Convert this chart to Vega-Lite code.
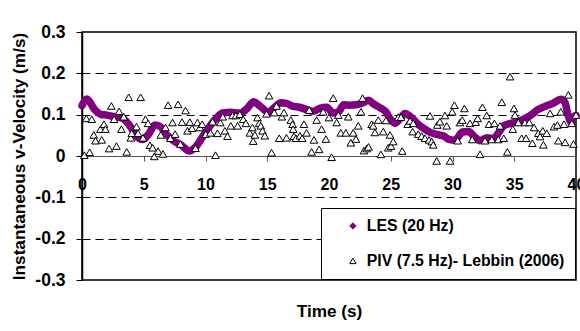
{
  "$schema": "https://vega.github.io/schema/vega-lite/v6.json",
  "autosize": {"type": "none"},
  "width": 494,
  "height": 248,
  "padding": {"left": 82, "top": 32, "right": 4, "bottom": 51},
  "background": "#ffffff",
  "config": {
    "view": {"stroke": "#000000", "strokeWidth": 1.5},
    "font": "Liberation Sans",
    "legend": {
      "title": null,
      "orient": "none",
      "legendX": 239,
      "legendY": 176,
      "padding": 10,
      "fillColor": "#ffffff",
      "strokeColor": "#000000",
      "symbolOffset": 14,
      "symbolSize": 40,
      "symbolStrokeWidth": 1,
      "labelFont": "Liberation Sans",
      "labelFontWeight": "bold",
      "labelFontSize": 15.8,
      "labelColor": "#000000",
      "labelOffset": 6,
      "labelLimit": 400,
      "rowPadding": 18
    }
  },
  "datasets": {
    "les": [
      {"t": 0, "v": 0.122}, {"t": 0.4, "v": 0.138}, {"t": 1.0, "v": 0.113}, {"t": 1.5, "v": 0.101},
      {"t": 2.0, "v": 0.099}, {"t": 2.7, "v": 0.095}, {"t": 3.3, "v": 0.091}, {"t": 3.9, "v": 0.072},
      {"t": 4.4, "v": 0.048}, {"t": 4.9, "v": 0.040}, {"t": 5.4, "v": 0.053}, {"t": 5.9, "v": 0.075},
      {"t": 6.3, "v": 0.072}, {"t": 6.8, "v": 0.053}, {"t": 7.4, "v": 0.037}, {"t": 8.0, "v": 0.027},
      {"t": 8.7, "v": 0.012}, {"t": 9.2, "v": 0.022}, {"t": 9.8, "v": 0.048}, {"t": 10.35, "v": 0.072},
      {"t": 10.9, "v": 0.092}, {"t": 11.4, "v": 0.104}, {"t": 12.0, "v": 0.106}, {"t": 12.8, "v": 0.104},
      {"t": 13.3, "v": 0.113}, {"t": 13.9, "v": 0.131}, {"t": 14.4, "v": 0.121}, {"t": 15.1, "v": 0.106},
      {"t": 15.6, "v": 0.118}, {"t": 16.1, "v": 0.129}, {"t": 16.6, "v": 0.127}, {"t": 17.1, "v": 0.120},
      {"t": 17.6, "v": 0.118}, {"t": 18.2, "v": 0.112}, {"t": 18.7, "v": 0.108}, {"t": 19.3, "v": 0.116},
      {"t": 19.8, "v": 0.118}, {"t": 20.35, "v": 0.104}, {"t": 20.8, "v": 0.108}, {"t": 21.2, "v": 0.124},
      {"t": 21.7, "v": 0.123}, {"t": 22.2, "v": 0.124}, {"t": 22.7, "v": 0.128}, {"t": 23.2, "v": 0.135},
      {"t": 23.6, "v": 0.126}, {"t": 24.1, "v": 0.117}, {"t": 24.6, "v": 0.107}, {"t": 25.0, "v": 0.088},
      {"t": 25.35, "v": 0.079}, {"t": 25.8, "v": 0.092}, {"t": 26.15, "v": 0.103}, {"t": 26.6, "v": 0.095},
      {"t": 27.1, "v": 0.080}, {"t": 27.6, "v": 0.068}, {"t": 28.2, "v": 0.057}, {"t": 28.9, "v": 0.051},
      {"t": 29.3, "v": 0.048}, {"t": 29.7, "v": 0.040}, {"t": 30.2, "v": 0.038}, {"t": 30.8, "v": 0.058},
      {"t": 31.3, "v": 0.059}, {"t": 31.8, "v": 0.046}, {"t": 32.2, "v": 0.037}, {"t": 32.8, "v": 0.044},
      {"t": 33.3, "v": 0.042}, {"t": 33.7, "v": 0.055}, {"t": 34.1, "v": 0.072}, {"t": 34.7, "v": 0.079},
      {"t": 35.3, "v": 0.083}, {"t": 35.9, "v": 0.091}, {"t": 36.4, "v": 0.100}, {"t": 36.9, "v": 0.112},
      {"t": 37.5, "v": 0.120}, {"t": 38.1, "v": 0.127}, {"t": 38.8, "v": 0.137}, {"t": 39.1, "v": 0.130},
      {"t": 39.35, "v": 0.100}, {"t": 39.6, "v": 0.082}, {"t": 39.9, "v": 0.097}, {"t": 40.0, "v": 0.098}
    ],
    "piv": [
      {"t": 0.19, "v": 0.002}, {"t": 0.62, "v": 0.009}, {"t": 0.35, "v": 0.091}, {"t": 0.79, "v": 0.089},
      {"t": 0.95, "v": 0.051}, {"t": 1.09, "v": 0.037}, {"t": 1.49, "v": 0.065}, {"t": 1.6, "v": 0.039},
      {"t": 1.78, "v": 0.077}, {"t": 1.9, "v": 0.065}, {"t": 2.19, "v": 0.018}, {"t": 2.38, "v": 0.121},
      {"t": 2.6, "v": 0.089}, {"t": 2.79, "v": 0.024}, {"t": 3.0, "v": 0.108}, {"t": 3.19, "v": 0.065},
      {"t": 3.38, "v": 0.095}, {"t": 3.62, "v": 0.010}, {"t": 3.78, "v": 0.142}, {"t": 3.95, "v": 0.044},
      {"t": 4.03, "v": 0.055}, {"t": 4.41, "v": 0.071}, {"t": 4.54, "v": 0.055}, {"t": 4.75, "v": 0.142},
      {"t": 4.94, "v": 0.044}, {"t": 5.14, "v": 0.089}, {"t": 5.35, "v": 0.079}, {"t": 5.5, "v": 0.026},
      {"t": 5.72, "v": 0.020}, {"t": 5.85, "v": -0.001}, {"t": 6.16, "v": 0.012}, {"t": 6.38, "v": 0.051},
      {"t": 6.56, "v": 0.005}, {"t": 6.76, "v": 0.069}, {"t": 6.97, "v": 0.123}, {"t": 7.16, "v": 0.043},
      {"t": 7.33, "v": 0.081}, {"t": 7.54, "v": 0.053}, {"t": 7.78, "v": 0.125}, {"t": 7.97, "v": 0.029},
      {"t": 8.1, "v": 0.082}, {"t": 8.38, "v": 0.110}, {"t": 8.54, "v": 0.061}, {"t": 8.73, "v": 0.082},
      {"t": 8.91, "v": 0.067}, {"t": 9.19, "v": 0.019}, {"t": 9.35, "v": 0.081}, {"t": 9.54, "v": 0.069},
      {"t": 9.73, "v": 0.077}, {"t": 10.02, "v": 0.053}, {"t": 10.4, "v": 0.056}, {"t": 10.57, "v": 0.083},
      {"t": 10.81, "v": 0.002}, {"t": 10.97, "v": 0.055}, {"t": 11.2, "v": 0.081}, {"t": 11.4, "v": 0.095},
      {"t": 11.57, "v": 0.061}, {"t": 11.78, "v": 0.048}, {"t": 12.05, "v": 0.073}, {"t": 12.19, "v": 0.098},
      {"t": 12.46, "v": 0.098}, {"t": 12.6, "v": 0.073}, {"t": 12.78, "v": 0.101}, {"t": 13.05, "v": 0.089},
      {"t": 13.27, "v": 0.079}, {"t": 13.59, "v": 0.056}, {"t": 13.8, "v": 0.069}, {"t": 13.86, "v": 0.036},
      {"t": 14.0, "v": 0.051}, {"t": 14.21, "v": 0.093}, {"t": 14.35, "v": 0.079}, {"t": 14.48, "v": 0.073},
      {"t": 14.62, "v": 0.061}, {"t": 14.8, "v": 0.049}, {"t": 14.94, "v": 0.102}, {"t": 15.15, "v": 0.146},
      {"t": 15.35, "v": 0.008}, {"t": 15.56, "v": 0.105}, {"t": 15.75, "v": 0.121}, {"t": 15.97, "v": 0.043},
      {"t": 16.18, "v": 0.095}, {"t": 16.35, "v": 0.105}, {"t": 16.56, "v": 0.044}, {"t": 16.91, "v": 0.087},
      {"t": 17.05, "v": 0.077}, {"t": 17.1, "v": 0.065}, {"t": 17.16, "v": 0.048}, {"t": 17.32, "v": 0.043},
      {"t": 17.64, "v": 0.049}, {"t": 17.83, "v": 0.043}, {"t": 17.97, "v": 0.077}, {"t": 18.18, "v": 0.056},
      {"t": 18.4, "v": 0.111}, {"t": 18.59, "v": 0.010}, {"t": 18.78, "v": 0.039}, {"t": 19.0, "v": 0.087},
      {"t": 19.2, "v": 0.016}, {"t": 19.4, "v": 0.065}, {"t": 19.53, "v": 0.107}, {"t": 19.75, "v": 0.041},
      {"t": 20.0, "v": 0.093}, {"t": 20.21, "v": -0.003}, {"t": 20.34, "v": 0.140}, {"t": 20.62, "v": 0.081},
      {"t": 20.75, "v": 0.099}, {"t": 20.96, "v": 0.056}, {"t": 21.37, "v": 0.056}, {"t": 21.56, "v": 0.095},
      {"t": 21.77, "v": 0.032}, {"t": 21.96, "v": 0.056}, {"t": 22.18, "v": 0.041}, {"t": 22.37, "v": 0.073},
      {"t": 22.59, "v": 0.107}, {"t": 22.72, "v": 0.140}, {"t": 22.83, "v": 0.013}, {"t": 23.05, "v": 0.018},
      {"t": 23.2, "v": 0.022}, {"t": 23.45, "v": 0.077}, {"t": 23.58, "v": 0.073}, {"t": 23.72, "v": 0.057},
      {"t": 23.99, "v": 0.087}, {"t": 24.2, "v": 0.004}, {"t": 24.39, "v": 0.059}, {"t": 24.61, "v": 0.086},
      {"t": 24.8, "v": 0.020}, {"t": 24.94, "v": 0.051}, {"t": 25.02, "v": 0.024}, {"t": 25.2, "v": 0.035},
      {"t": 25.61, "v": 0.094}, {"t": 25.83, "v": 0.094}, {"t": 25.93, "v": 0.012}, {"t": 26.37, "v": 0.077},
      {"t": 26.56, "v": 0.085}, {"t": 26.77, "v": 0.059}, {"t": 26.82, "v": 0.079}, {"t": 27.23, "v": 0.053},
      {"t": 27.5, "v": 0.048}, {"t": 27.77, "v": 0.043}, {"t": 28.1, "v": 0.039}, {"t": 28.18, "v": 0.097},
      {"t": 28.32, "v": 0.035}, {"t": 28.44, "v": 0.027}, {"t": 28.72, "v": -0.012}, {"t": 28.77, "v": 0.075},
      {"t": 28.98, "v": 0.083}, {"t": 29.39, "v": 0.098}, {"t": 29.53, "v": 0.073}, {"t": 29.8, "v": -0.012},
      {"t": 29.98, "v": 0.107}, {"t": 30.15, "v": 0.123}, {"t": 30.42, "v": 0.037}, {"t": 30.6, "v": 0.081},
      {"t": 30.79, "v": 0.087}, {"t": 30.96, "v": 0.115}, {"t": 31.42, "v": 0.079}, {"t": 31.6, "v": 0.040},
      {"t": 31.88, "v": 0.082}, {"t": 32.04, "v": 0.091}, {"t": 32.23, "v": 0.004}, {"t": 32.42, "v": 0.118},
      {"t": 32.63, "v": 0.037}, {"t": 32.77, "v": 0.098}, {"t": 32.96, "v": 0.077}, {"t": 33.18, "v": 0.040},
      {"t": 33.39, "v": 0.079}, {"t": 33.71, "v": 0.040}, {"t": 33.85, "v": 0.073}, {"t": 33.99, "v": 0.130},
      {"t": 34.15, "v": 0.043}, {"t": 34.44, "v": 0.010}, {"t": 34.66, "v": 0.192}, {"t": 34.88, "v": 0.065},
      {"t": 34.98, "v": 0.115}, {"t": 35.06, "v": 0.099}, {"t": 35.33, "v": 0.081}, {"t": 35.6, "v": 0.043},
      {"t": 35.87, "v": 0.081}, {"t": 35.96, "v": 0.043}, {"t": 36.22, "v": 0.081}, {"t": 36.47, "v": 0.031},
      {"t": 36.6, "v": 0.069}, {"t": 36.95, "v": 0.055}, {"t": 37.09, "v": 0.047}, {"t": 37.31, "v": 0.061},
      {"t": 37.36, "v": 0.027}, {"t": 37.63, "v": 0.055}, {"t": 37.9, "v": 0.103}, {"t": 38.22, "v": 0.071},
      {"t": 38.49, "v": 0.075}, {"t": 38.57, "v": 0.037}, {"t": 38.77, "v": 0.107}, {"t": 39.03, "v": 0.077},
      {"t": 39.12, "v": 0.033}, {"t": 39.38, "v": 0.148}, {"t": 39.66, "v": 0.079}, {"t": 39.79, "v": 0.029},
      {"t": 40.0, "v": 0.099}
    ]
  },
  "encoding": {
    "x": {
      "field": "t",
      "type": "quantitative",
      "scale": {"domain": [0, 40], "nice": false, "zero": false},
      "axis": {
        "orient": "bottom",
        "offset": -124,
        "values": [0, 5, 10, 15, 20, 25, 30, 35, 40],
        "format": "d",
        "grid": false,
        "domainColor": "#555555",
        "domainWidth": 1,
        "tickColor": "#555555",
        "tickSize": 5,
        "labelFont": "Liberation Sans",
        "labelFontWeight": "bold",
        "labelFontSize": 16,
        "labelColor": "#000000",
        "labelPadding": 15,
        "labelOverlap": false,
        "labelFlush": false,
        "title": "Time (s)",
        "titleFont": "Liberation Sans",
        "titleFontWeight": "bold",
        "titleFontSize": 17.2,
        "titleColor": "#000000",
        "titlePadding": 110
      }
    },
    "y": {
      "field": "v",
      "type": "quantitative",
      "scale": {"domain": [-0.3, 0.3], "nice": false, "zero": false},
      "axis": {
        "values": [-0.3, -0.2, -0.1, 0, 0.1, 0.2, 0.3],
        "labelExpr": "datum.value == 0 ? '0' : (datum.value < 0 ? '-' : '') + format(abs(datum.value), '.1f')",
        "grid": true,
        "gridColor": "#000000",
        "gridWidth": 1,
        "gridDash": [8, 5],
        "gridOpacity": {"condition": {"test": "datum.value == 0 || abs(datum.value) > 0.25", "value": 0}, "value": 1},
        "domainColor": "#000000",
        "domainWidth": 1.5,
        "tickColor": "#000000",
        "tickSize": 6,
        "labelFont": "Liberation Sans",
        "labelFontWeight": "bold",
        "labelFontSize": 17.5,
        "labelColor": "#000000",
        "labelPadding": 11,
        "labelFlush": false,
        "title": "Instantaneous v-Velocity (m/s)",
        "titleFont": "Liberation Sans",
        "titleFontWeight": "bold",
        "titleFontSize": 17.2,
        "titleColor": "#000000",
        "titlePadding": 6
      }
    }
  },
  "layer": [
    {
      "data": {"name": "les"},
      "mark": {"type": "line", "color": "#800080", "strokeWidth": 7.5, "strokeCap": "round", "strokeJoin": "round", "interpolate": "monotone"},
      "encoding": {}
    },
    {
      "data": {"name": "piv"},
      "transform": [{"calculate": "'PIV (7.5 Hz)- Lebbin (2006)'", "as": "series"}],
      "mark": {"type": "point", "filled": true, "fillOpacity": 1, "strokeWidth": 1, "size": 58, "opacity": 1},
      "encoding": {
        "shape": {
          "field": "series",
          "type": "nominal",
          "scale": {"domain": ["LES (20 Hz)", "PIV (7.5 Hz)- Lebbin (2006)"], "range": ["diamond", "triangle-up"]}
        },
        "fill": {
          "field": "series",
          "type": "nominal",
          "scale": {"domain": ["LES (20 Hz)", "PIV (7.5 Hz)- Lebbin (2006)"], "range": ["#800080", "#ffffff"]}
        },
        "stroke": {
          "field": "series",
          "type": "nominal",
          "scale": {"domain": ["LES (20 Hz)", "PIV (7.5 Hz)- Lebbin (2006)"], "range": ["#800080", "#000000"]}
        }
      }
    }
  ]
}
